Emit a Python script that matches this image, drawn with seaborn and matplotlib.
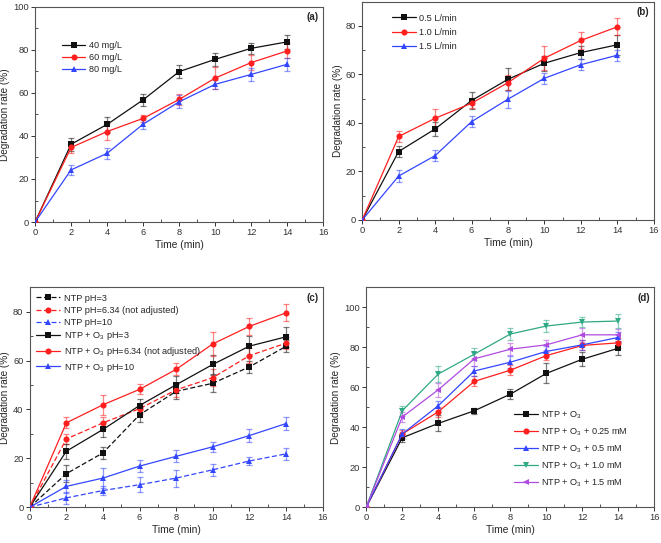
import numpy as np
import pandas as pd
import matplotlib
matplotlib.use("Agg")
import matplotlib.pyplot as plt
import seaborn as sns

# ---------------- DATA ----------------
time = [0, 2, 4, 6, 8, 10, 12, 14]

# (a) initial concentration
a_labels = ["40 mg/L", "60 mg/L", "80 mg/L"]
a_40 = [0, 36.1, 45.3, 56.7, 69.8, 75.5, 80.6, 83.6]
a_40_err = [0, 3.0, 3.5, 2.7, 3.0, 3.0, 2.4, 3.3]
a_60 = [0, 34.6, 42.0, 48.1, 56.9, 66.8, 74.0, 79.4]
a_60_err = [0, 2.5, 4.0, 1.5, 2.5, 5.0, 3.5, 3.5]
a_80 = [0, 24.2, 31.9, 45.4, 55.8, 63.9, 68.5, 73.2]
a_80_err = [0, 2.5, 2.5, 2.0, 3.0, 2.0, 3.0, 3.0]

# (b) gas flow
b_labels = ["0.5 L/min", "1.0 L/min", "1.5 L/min"]
b_05 = [0, 28.2, 37.5, 49.2, 58.0, 64.6, 69.0, 72.2]
b_05_err = [0, 2.3, 3.0, 3.5, 4.5, 3.0, 2.5, 4.0]
b_10 = [0, 34.4, 41.9, 48.1, 56.6, 66.7, 74.0, 79.6]
b_10_err = [0, 2.3, 4.0, 2.0, 3.0, 5.0, 3.5, 3.5]
b_15 = [0, 18.1, 26.5, 40.5, 49.8, 58.4, 64.0, 67.9]
b_15_err = [0, 2.3, 2.3, 2.3, 3.5, 2.3, 2.3, 2.3]

# (c) pH
c_labels = ["NTP pH=3", "NTP pH=6.34 (not adjusted)", "NTP pH=10",
            "NTP + O$_3$ pH=3", "NTP + O$_3$ pH=6.34 (not adjusted)",
            "NTP + O$_3$ pH=10"]
c_ntp3 = [0, 13.7, 22.2, 37.8, 47.4, 50.7, 57.4, 65.8]
c_ntp3_err = [0, 3.5, 2.5, 3.0, 3.0, 3.5, 2.5, 2.5]
c_ntp634 = [0, 27.9, 34.5, 40.3, 48.0, 53.0, 62.0, 67.1]
c_ntp634_err = [0, 2.0, 2.5, 2.0, 3.0, 3.5, 3.0, 2.5]
c_ntp10 = [0, 3.8, 6.8, 9.2, 11.9, 15.3, 18.9, 21.8]
c_ntp10_err = [0, 2.5, 2.0, 3.0, 3.5, 2.5, 1.5, 2.5]
c_o3_3 = [0, 22.9, 31.8, 41.6, 50.1, 58.4, 65.9, 69.7]
c_o3_3_err = [0, 3.0, 3.0, 2.5, 3.5, 4.0, 4.0, 4.0]
c_o3_634 = [0, 34.5, 41.9, 48.2, 56.4, 66.8, 74.0, 79.5]
c_o3_634_err = [0, 2.3, 4.0, 2.0, 2.5, 5.0, 3.5, 3.5]
c_o3_10 = [0, 8.5, 11.9, 16.8, 20.8, 24.7, 29.3, 34.2]
c_o3_10_err = [0, 2.5, 4.0, 2.5, 2.5, 2.0, 2.5, 2.5]

# (d) additive dose
d_labels = ["NTP + O$_3$", "NTP + O$_3$ + 0.25 mM", "NTP + O$_3$ + 0.5 mM",
            "NTP + O$_3$ + 1.0 mM", "NTP + O$_3$ + 1.5 mM"]
d_0 = [0, 34.7, 41.9, 48.2, 56.5, 66.9, 74.0, 79.5]
d_0_err = [0, 2.0, 4.0, 1.5, 2.5, 5.0, 3.5, 3.5]
d_025 = [0, 36.6, 47.7, 62.9, 68.5, 75.8, 80.9, 82.2]
d_025_err = [0, 2.0, 2.5, 2.5, 2.5, 2.0, 2.5, 2.5]
d_05 = [0, 36.6, 50.7, 68.1, 72.5, 77.9, 81.2, 84.9]
d_05_err = [0, 2.5, 2.5, 2.5, 3.0, 2.5, 2.5, 2.5]
d_10 = [0, 48.2, 66.6, 76.5, 86.6, 90.6, 92.6, 93.1]
d_10_err = [0, 2.5, 4.0, 3.0, 3.0, 3.0, 2.5, 3.5]
d_15 = [0, 45.1, 58.7, 74.2, 79.0, 81.2, 86.2, 86.2]
d_15_err = [0, 2.5, 3.5, 3.5, 3.0, 2.5, 3.5, 3.0]

BLACK = "#111111"
RED = "#ff1f1f"
BLUE = "#3346ff"
TEAL = "#2fa985"
PURPLE = "#b04be0"

sns.set_style("ticks")
plt.rcParams["font.family"] = ["Liberation Sans", "DejaVu Sans"]
plt.rcParams["mathtext.default"] = "regular"


def draw_panel(ax, series, ylim, yticks, tag, legend_kw):
    rows = []
    for label, vals, err, color, marker, dash in series:
        for t, v, e in zip(time, vals, err):
            rows.append({"t": t, "v": v, "e": e, "s": label})
    df = pd.DataFrame(rows)
    labels = [s[0] for s in series]
    palette = {s[0]: s[3] for s in series}
    markers = {s[0]: s[4] for s in series}
    dashes = {s[0]: ((4, 2) if s[5] else "") for s in series}

    for label, vals, err, color, marker, dash in series:
        ax.errorbar(time, vals, yerr=err, fmt="none", ecolor=color,
                    alpha=0.55, elinewidth=0.9, capsize=2.2, capthick=0.9,
                    zorder=2)

    sns.lineplot(data=df, x="t", y="v", hue="s", hue_order=labels,
                 style="s", style_order=labels, palette=palette,
                 markers=markers, dashes=dashes, markersize=4.4,
                 markeredgewidth=0, linewidth=0.9, ax=ax, zorder=3)

    ax.set_xlim(0, 16)
    ax.set_xticks(range(0, 17, 2))
    ax.set_xticks(range(1, 16, 2), minor=True)
    ax.set_ylim(*ylim)
    ax.set_yticks(yticks)
    ax.set_yticks(np.arange(10, ylim[1], 20), minor=True)
    ax.tick_params(which="major", direction="out", length=3, width=0.7,
                   labelsize=6.7, pad=1.5, colors="#333333")
    ax.tick_params(which="minor", direction="in", length=2, width=0.6,
                   colors="#333333")
    for sp in ax.spines.values():
        sp.set_linewidth(0.8)
        sp.set_color("#555555")
    ax.set_xlabel("Time (min)", fontsize=7.4, labelpad=2)
    ax.set_ylabel("Degradation rate (%)", fontsize=7.2, labelpad=2)
    ax.text(0.985, 0.975, tag, transform=ax.transAxes, ha="right", va="top",
            fontsize=7, fontweight="bold")

    handles, hl = ax.get_legend_handles_labels()
    opts = dict(frameon=False, fontsize=6.6, handlelength=2.6,
                handletextpad=0.4, labelspacing=0.35, borderpad=0.2)
    opts.update(legend_kw)
    ax.legend(handles, hl, **opts)


fig = plt.figure(figsize=(6.61, 5.43), dpi=100)
ax_a = fig.add_axes([0.053, 0.591, 0.436, 0.397])
ax_b = fig.add_axes([0.548, 0.595, 0.441, 0.402])
ax_c = fig.add_axes([0.045, 0.066, 0.443, 0.405])
ax_d = fig.add_axes([0.554, 0.066, 0.436, 0.405])

draw_panel(ax_a, [
    (a_labels[0], a_40, a_40_err, BLACK, "s", False),
    (a_labels[1], a_60, a_60_err, RED, "o", False),
    (a_labels[2], a_80, a_80_err, BLUE, "^", False),
], (0, 100), range(0, 101, 20), "(a)",
    dict(loc="upper left", bbox_to_anchor=(0.07, 0.87)))

draw_panel(ax_b, [
    (b_labels[0], b_05, b_05_err, BLACK, "s", False),
    (b_labels[1], b_10, b_10_err, RED, "o", False),
    (b_labels[2], b_15, b_15_err, BLUE, "^", False),
], (0, 90), range(0, 81, 20), "(b)",
    dict(loc="upper left", bbox_to_anchor=(0.08, 0.975), labelspacing=0.57))

draw_panel(ax_c, [
    (c_labels[0], c_ntp3, c_ntp3_err, BLACK, "s", True),
    (c_labels[1], c_ntp634, c_ntp634_err, RED, "o", True),
    (c_labels[2], c_ntp10, c_ntp10_err, BLUE, "^", True),
    (c_labels[3], c_o3_3, c_o3_3_err, BLACK, "s", False),
    (c_labels[4], c_o3_634, c_o3_634_err, RED, "o", False),
    (c_labels[5], c_o3_10, c_o3_10_err, BLUE, "^", False),
], (0, 90), range(0, 81, 20), "(c)",
    dict(loc="upper left", bbox_to_anchor=(0.0, 1.0)))

draw_panel(ax_d, [
    (d_labels[0], d_0, d_0_err, BLACK, "s", False),
    (d_labels[1], d_025, d_025_err, RED, "o", False),
    (d_labels[2], d_05, d_05_err, BLUE, "^", False),
    (d_labels[3], d_10, d_10_err, TEAL, "v", False),
    (d_labels[4], d_15, d_15_err, PURPLE, "<", False),
], (0, 110), range(0, 101, 20), "(d)",
    dict(loc="upper left", bbox_to_anchor=(0.49, 0.473), labelspacing=0.6))

fig.savefig("out.png", dpi=100)
